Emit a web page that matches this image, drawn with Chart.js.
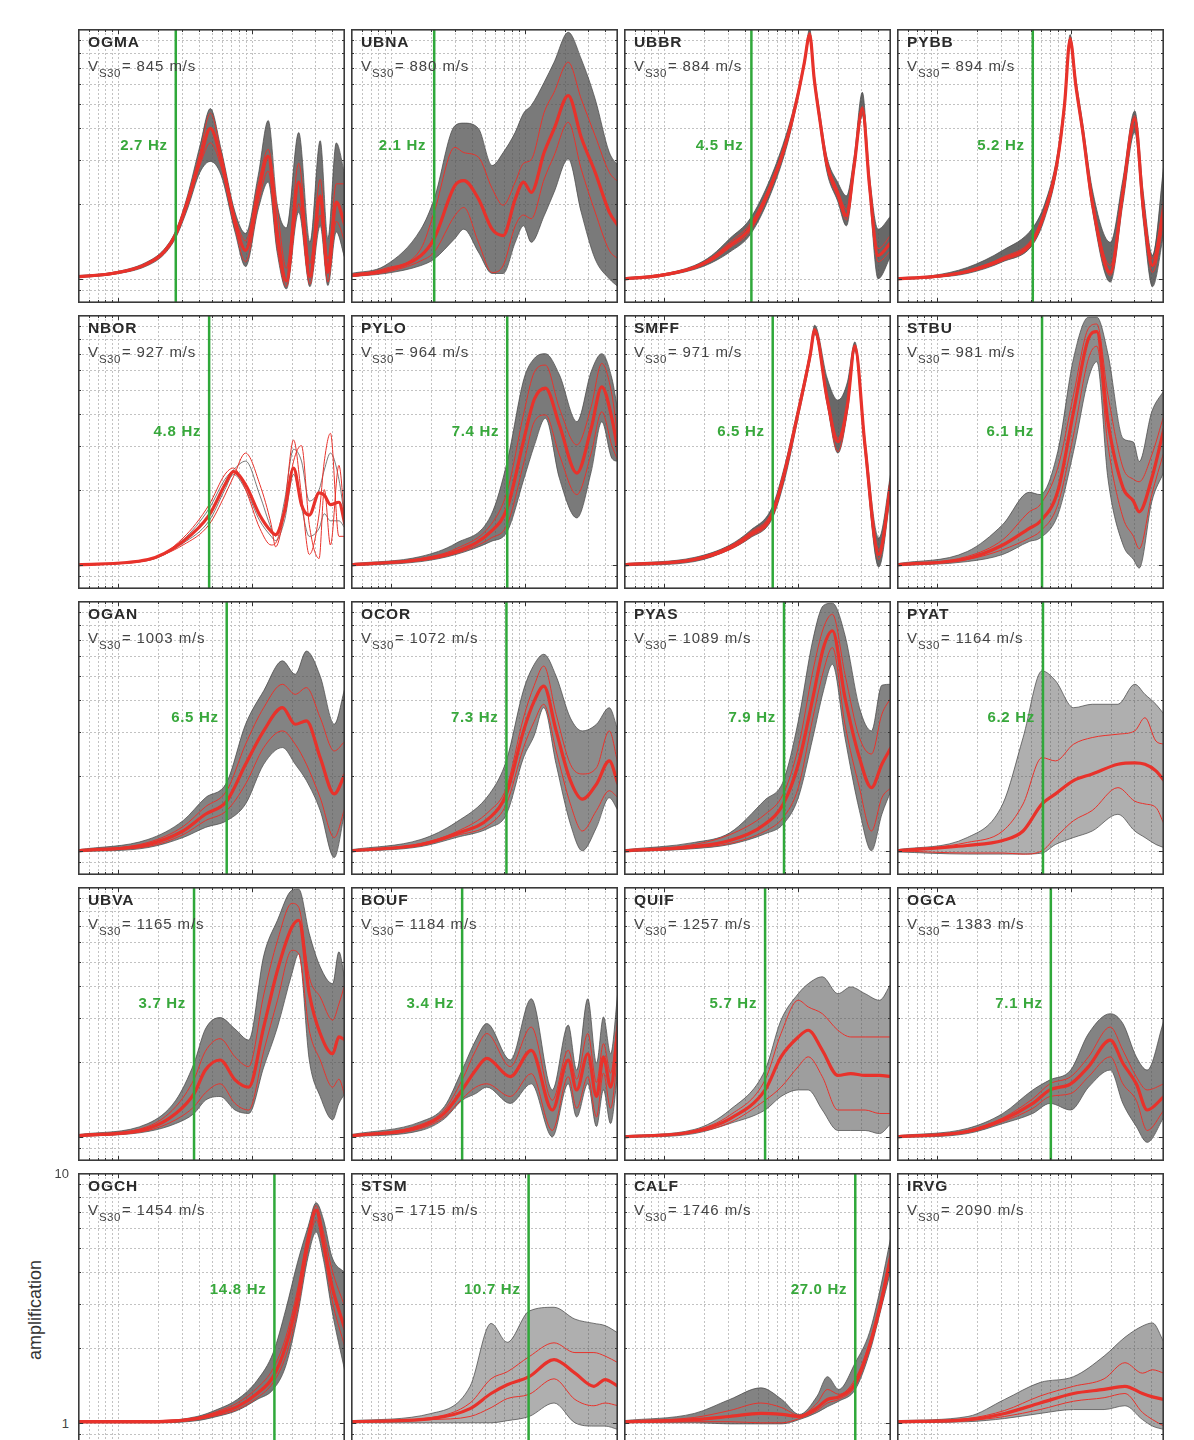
<!DOCTYPE html>
<html><head><meta charset="utf-8">
<script src="https://cdn.jsdelivr.net/npm/chart.js@4.4.1/dist/chart.umd.min.js"></script>
<style>
html,body{margin:0;padding:0;background:#fff;}
body{width:1194px;height:1440px;position:relative;overflow:hidden;font-family:"Liberation Sans",Arial,sans-serif;}
.panel{position:absolute;width:267px;height:274px;}
.panel canvas{position:absolute;left:0;top:0;}
.name{position:absolute;left:10px;top:4px;font-weight:bold;font-size:15.5px;letter-spacing:0.9px;color:#2a2a2a;white-space:nowrap;}
.vs{position:absolute;left:10px;top:28px;font-size:15px;letter-spacing:0.9px;color:#444;white-space:nowrap;}
.vs .sub{font-size:11.5px;letter-spacing:0.5px;position:relative;top:6px;margin-right:1px;}
.hz{position:absolute;font-weight:bold;font-size:15px;letter-spacing:0.7px;color:#38a83c;white-space:nowrap;transform:translate(-100%,-50%);}
.ylab{position:absolute;left:35px;top:1310px;transform:translate(-50%,-50%) rotate(-90deg);font-size:18px;color:#333;white-space:nowrap;}
.ytick{position:absolute;font-size:13px;color:#444;transform:translate(-100%,-50%);}
</style></head><body>
<div class="ylab">amplification</div>
<script>
// ---------- data ----------
const STATIONS = ['OGMA','UBNA','UBBR','PYBB','NBOR','PYLO','SMFF','STBU','OGAN','OCOR','PYAS','PYAT','UBVA','BOUF','QUIF','OGCA','OGCH','STSM','CALF','IRVG'];
const VS30 = [845,880,884,894,927,964,971,981,1003,1072,1089,1164,1165,1184,1257,1383,1454,1715,1746,2090];
const F0 = [2.7,2.1,4.5,5.2,4.8,7.4,6.5,6.1,6.5,7.3,7.9,6.2,3.7,3.4,5.7,7.1,14.8,10.7,27.0,null];
const FREQ_RANGE = [0.5, 50];
const AMP_RANGE = [0.8, 10];
const FREQ_GRID = [0.5,0.6,0.7,0.8,0.9,1,2,3,4,5,6,7,8,9,10,20,30,40,50];
const AMP_GRID = [0.8,0.9,1,2,3,4,5,6,7,8,9,10];
const Y_TICK_LABELS = [10, 1];

// rows: [frequency Hz, mean, red lower, red upper, gray lower, gray upper]
const OGMA = [[0.5,1.02,1.02,1.02,1.01,1.03],[0.9,1.05,1.04,1.06,1.04,1.06],[1.6,1.14,1.13,1.15,1.12,1.16],[2.2,1.28,1.26,1.30,1.25,1.31],[2.7,1.51,1.48,1.54,1.46,1.56],[3.3,2.03,1.95,2.1,1.9,2.15],[4.1,3.0,2.85,3.2,2.67,3.41],[4.9,4.0,3.5,4.6,2.95,4.8],[5.9,3.0,2.8,3.2,2.6,3.3],[7.5,1.69,1.6,1.78,1.54,1.85],[9.0,1.3,1.17,1.42,1.12,1.52],[11.2,2.2,2.0,2.4,1.9,2.6],[13.3,3.1,2.7,3.3,2.44,4.3],[15.5,1.54,1.35,1.93,1.28,2.0],[18.2,0.98,0.93,1.1,0.91,1.6],[22.5,2.44,2.0,2.9,1.85,3.85],[27.3,1.02,0.95,1.15,0.93,1.4],[32.6,2.15,1.8,2.5,1.63,3.57],[37.2,1.06,0.97,1.2,0.94,1.45],[43,2.03,1.7,2.4,1.54,3.5],[50,1.63,1.4,2.4,1.2,2.59]];
const UBNA = [[0.5,1.03,1.02,1.04,1.02,1.05],[0.9,1.08,1.06,1.10,1.05,1.13],[1.67,1.24,1.18,1.32,1.13,1.58],[2.1,1.45,1.28,1.85,1.2,2.09],[3.0,2.36,1.79,3.36,1.45,4.1],[3.5,2.47,1.93,3.2,1.58,4.2],[4.5,2.09,1.40,3.07,1.28,4.0],[5.7,1.58,1.06,2.3,1.05,2.84],[6.9,1.49,1.13,1.97,1.05,3.2],[8.5,2.09,1.63,2.44,1.40,3.86],[9.8,2.44,1.8,2.9,1.63,4.6],[11.2,2.22,1.74,3.0,1.4,4.94],[14,3.21,2.51,4.64,1.79,6.12],[16.6,3.98,3.11,5.58,2.22,7.36],[21.2,5.41,4.23,7.36,3.02,9.7],[26.5,3.69,2.75,5.25,1.85,7.59],[33.7,2.67,1.85,3.74,1.2,5.25],[43,1.85,1.3,2.67,1.0,3.21],[50,1.63,1.2,2.44,0.93,2.84]];
const UBBR = [[0.5,1.0,1.0,1.0,0.99,1.01],[0.92,1.03,1.02,1.04,1.02,1.04],[1.68,1.11,1.10,1.12,1.09,1.13],[2.27,1.2,1.18,1.22,1.16,1.24],[3.1,1.36,1.33,1.40,1.28,1.45],[4.4,1.6,1.55,1.66,1.50,1.74],[6.2,2.3,2.24,2.38,2.15,2.5],[8.3,3.6,3.5,3.7,3.4,3.86],[10,5.4,5.3,5.5,5.2,5.6],[11.2,7.3,7.2,7.4,7.1,7.5],[12.3,9.5,9.3,9.7,9.2,10],[13.3,6.3,6.2,6.4,6.1,6.6],[14.5,4.5,4.4,4.6,4.3,4.8],[16.5,2.9,2.8,3.0,2.7,3.1],[19.9,2.2,2.12,2.28,2.05,2.44],[23.2,1.79,1.72,1.9,1.63,2.15],[26.5,2.84,2.75,2.93,2.7,3.1],[30.5,4.79,4.6,4.9,4.5,5.58],[34.5,2.36,2.3,2.44,2.2,2.6],[40,1.24,1.17,1.32,1.0,1.58],[50,1.4,1.3,1.5,1.24,1.79]];
const PYBB = [[0.5,1.0,1.0,1.0,0.99,1.01],[0.92,1.02,1.01,1.02,1.01,1.03],[1.68,1.07,1.06,1.08,1.05,1.11],[3.1,1.2,1.18,1.22,1.17,1.3],[5.2,1.42,1.39,1.46,1.37,1.6],[6.4,1.85,1.8,1.9,1.75,2.0],[7.9,2.9,2.8,3.0,2.75,3.1],[9.0,5.0,4.9,5.1,4.8,5.3],[9.9,9.1,8.9,9.3,8.8,9.5],[10.9,6.0,5.9,6.1,5.8,6.4],[12.3,3.9,3.8,4.0,3.7,4.2],[14.5,2.03,1.97,2.1,1.9,2.29],[19.8,1.06,1.03,1.13,0.97,1.4],[24.6,2.22,2.1,2.3,2.0,2.5],[30.2,4.37,4.1,4.5,3.86,4.7],[35,1.91,1.8,2.0,1.7,2.2],[41,1.13,1.06,1.2,0.93,1.24],[50,1.91,1.7,2.1,1.54,2.9]];
const NBOR = [[0.5,1.0,1.0,1.0,1.0,1.0],[1.67,1.05,1.04,1.05,1.04,1.05],[3.06,1.24,1.28,1.2,1.22,1.26],[4.8,1.58,1.74,1.45,1.5,1.68],[6.3,2.09,2.3,1.9,2.0,2.2],[7.3,2.36,2.44,2.25,2.3,2.4],[9.0,2.09,2.0,2.8,2.0,2.6],[11.5,1.58,1.4,2.1,1.5,1.9],[14,1.36,1.2,1.45,1.3,1.4],[15.1,1.32,1.22,1.18,1.25,1.3],[17.6,1.63,1.7,1.6,1.5,1.8],[20.6,2.44,3.16,2.6,2.3,2.9],[23.6,1.74,1.9,3.0,1.7,2.6],[27,1.58,1.1,1.45,1.3,1.8],[32,1.94,1.6,1.06,1.4,2.0],[35,1.9,2.6,2.0,1.6,2.4],[38.9,1.74,3.36,1.2,1.5,2.8],[45,1.78,1.3,2.5,1.5,2.2],[50,1.45,1.3,1.45,1.4,1.5]];
const PYLO = [[0.5,1.0,1.0,1.0,0.99,1.01],[1.67,1.05,1.04,1.06,1.03,1.08],[3.06,1.13,1.11,1.16,1.10,1.22],[5.6,1.36,1.28,1.45,1.24,1.58],[7.4,1.69,1.45,1.97,1.36,2.59],[9.9,3.21,2.59,4.1,2.22,5.58],[11.8,4.6,3.74,5.9,3.0,6.7],[14.3,5.1,3.98,6.3,3.86,7.0],[18.2,3.63,2.75,4.23,2.22,5.76],[24.6,2.33,1.91,3.02,1.54,3.74],[31.5,3.52,2.8,4.3,2.36,5.94],[37.8,5.16,4.1,6.4,3.74,7.0],[45,3.86,3.0,4.8,2.67,5.58],[50,2.84,2.6,3.2,2.59,4.1]];
const SMFF = [[0.5,1.0,1.0,1.0,0.99,1.01],[1.68,1.05,1.04,1.06,1.03,1.07],[3.1,1.17,1.15,1.19,1.15,1.20],[4.4,1.32,1.29,1.35,1.28,1.37],[6.4,1.58,1.54,1.63,1.52,1.69],[8.0,2.36,2.28,2.44,2.2,2.5],[10.1,4.1,4.0,4.2,3.9,4.3],[12.4,6.9,6.7,7.1,6.6,7.2],[13.4,8.7,8.5,8.85,8.4,9.1],[16.6,4.64,4.5,4.8,4.4,5.6],[20,3.11,2.84,3.21,2.8,4.56],[23.6,4.37,4.2,4.5,4.1,5.4],[26.8,7.5,7.3,7.6,7.2,7.8],[31.9,3.02,2.9,3.1,2.8,3.2],[40.5,1.1,1.05,1.15,0.98,1.28],[50,2.15,2.05,2.25,1.97,2.36]];
const STBU = [[0.5,1.0,1.0,1.0,0.99,1.01],[1.68,1.06,1.05,1.08,1.03,1.13],[3.1,1.2,1.15,1.26,1.1,1.45],[4.9,1.4,1.28,1.63,1.24,1.95],[5.9,1.49,1.36,1.74,1.28,1.91],[8.0,1.97,1.74,2.44,1.58,2.84],[10.5,4.1,3.31,4.79,2.84,6.7],[13.6,8.07,6.7,8.85,5.58,9.8],[15.7,8.58,7.5,9.2,6.5,9.8],[19,3.74,3.02,4.79,2.22,7.0],[24.7,2.03,1.54,2.44,1.2,3.2],[29.5,1.8,1.3,2.2,1.05,3.1],[32.6,1.63,1.16,2.15,0.97,2.59],[40.5,2.22,1.91,2.75,1.79,4.1],[50,3.52,2.84,3.98,2.36,4.99]];
const OGAN = [[0.5,1.0,1.0,1.0,0.99,1.01],[1.67,1.06,1.04,1.08,1.03,1.11],[3.06,1.2,1.16,1.25,1.13,1.32],[4.5,1.4,1.32,1.5,1.24,1.63],[6.5,1.58,1.45,1.74,1.32,1.88],[9.0,2.22,1.85,2.67,1.54,3.21],[12.3,3.02,2.59,3.74,2.22,4.37],[17,3.74,3.02,4.64,2.59,5.76],[21.2,3.21,2.67,4.23,2.22,5.09],[25.7,3.31,2.22,4.5,1.91,6.3],[32.6,2.36,1.63,3.41,1.45,5.0],[41.5,1.69,1.13,2.51,0.94,3.21],[50,2.03,1.49,2.75,1.45,4.5]];
const OCOR = [[0.5,1.0,1.0,1.0,0.99,1.01],[1.67,1.06,1.05,1.07,1.04,1.11],[3.06,1.17,1.15,1.19,1.13,1.3],[5.5,1.36,1.28,1.45,1.24,1.7],[7.3,1.69,1.54,1.79,1.4,2.3],[9.8,3.02,2.59,3.41,2.36,4.4],[11.8,3.98,3.3,4.6,2.9,5.58],[13.9,4.56,3.86,5.49,3.74,6.12],[17.2,3.02,2.51,3.52,2.22,5.0],[22,1.91,1.54,2.22,1.28,3.4],[27,1.61,1.2,2.03,1.0,3.02],[34.5,1.85,1.45,2.15,1.24,3.21],[43,2.29,1.74,3.02,1.63,3.74],[50,1.85,1.63,2.22,1.45,3.02]];
const PYAS = [[0.5,1.0,1.0,1.0,0.99,1.01],[1.68,1.04,1.03,1.06,1.02,1.08],[3.1,1.1,1.07,1.16,1.06,1.18],[5.7,1.28,1.2,1.4,1.17,1.6],[7.8,1.54,1.36,1.69,1.28,1.9],[10.1,2.22,1.79,2.59,1.63,3.3],[13,4.1,3.41,5.25,2.84,7.0],[15.6,6.5,5.25,7.8,4.37,9.6],[18.2,7.6,6.51,8.85,5.58,9.8],[22.6,4.1,3.21,5.09,2.84,7.3],[29,2.36,1.79,2.84,1.45,3.74],[35.7,1.79,1.2,2.44,1.0,3.02],[42.7,2.22,1.63,3.52,1.4,4.6],[50,2.59,1.79,4.1,1.74,4.64]];
const PYAT = [[0.5,1.0,1.0,1.0,0.99,1.01],[1.68,1.05,0.98,1.08,0.97,1.13],[3.1,1.1,0.98,1.2,0.97,1.54],[4.4,1.2,0.97,1.54,0.97,2.84],[6.1,1.54,1.0,2.36,0.98,5.25],[7.7,1.69,1.13,2.29,1.06,4.79],[10.5,1.91,1.32,2.67,1.13,3.74],[14.5,2.03,1.45,2.84,1.2,3.86],[22.6,2.22,1.79,2.93,1.4,3.86],[30.2,2.25,1.58,3.02,1.2,4.64],[36,2.22,1.54,3.41,1.13,4.23],[43.5,2.09,1.49,2.75,1.06,3.86],[50,1.91,1.28,2.67,1.03,3.52]];
const UBVA = [[0.5,1.01,1.0,1.01,1.0,1.02],[1.67,1.08,1.06,1.10,1.05,1.13],[2.7,1.24,1.17,1.32,1.13,1.4],[3.7,1.49,1.32,1.7,1.24,1.97],[4.5,1.85,1.5,2.2,1.4,2.7],[5.8,2.03,1.63,2.47,1.45,3.0],[7.5,1.69,1.36,2.09,1.28,2.7],[9.5,1.58,1.28,1.91,1.24,2.44],[12.3,2.75,2.2,3.7,1.9,5.3],[15.6,4.64,3.52,6.1,2.75,7.36],[20,6.9,5.58,8.6,4.5,9.7],[22.5,7.36,5.41,8.3,5.4,9.8],[27,3.74,2.67,4.37,2.03,6.51],[32.6,2.59,2.03,3.63,1.45,4.79],[40.4,2.15,1.58,2.93,1.17,4.1],[45,2.51,1.7,3.4,1.36,5.5],[50,2.44,1.45,4.1,1.49,4.23]];
const BOUF = [[0.5,1.01,1.0,1.01,1.0,1.02],[1.67,1.10,1.08,1.12,1.06,1.15],[2.5,1.24,1.2,1.28,1.18,1.32],[3.4,1.54,1.42,1.69,1.40,1.85],[4.3,1.85,1.58,2.22,1.49,2.44],[5.2,2.06,1.63,2.59,1.58,2.84],[7.8,1.74,1.45,1.91,1.36,2.03],[11.2,2.22,1.79,2.75,1.63,3.57],[16.1,1.28,1.06,1.40,1.0,1.54],[21.2,2.03,1.74,2.22,1.63,2.80],[24.5,1.54,1.3,1.7,1.2,1.85],[29.7,2.15,1.74,2.59,1.63,3.57],[34.5,1.45,1.2,1.65,1.1,1.97],[38.9,2.09,1.8,2.36,1.54,3.02],[44,1.58,1.3,1.8,1.13,2.15],[50,2.75,2.2,3.02,1.85,3.86]];
const QUIF = [[0.5,1.0,1.0,1.0,0.99,1.01],[1.68,1.05,1.04,1.06,1.03,1.07],[3.1,1.18,1.14,1.22,1.13,1.28],[5.7,1.54,1.4,1.69,1.28,1.85],[7.5,2.09,1.58,2.59,1.45,2.93],[10.1,2.51,1.91,3.52,1.54,3.74],[12,2.67,2.09,3.31,1.54,4.1],[15.3,2.22,1.74,3.11,1.28,4.37],[20,1.76,1.28,2.67,1.06,3.74],[25,1.79,1.28,2.51,1.06,3.98],[32,1.76,1.28,2.51,1.06,3.74],[41,1.76,1.24,2.51,1.03,3.52],[50,1.74,1.24,2.51,1.13,4.1]];
const OGCA = [[0.5,1.0,1.0,1.0,0.99,1.01],[1.68,1.05,1.04,1.06,1.03,1.08],[3.1,1.17,1.15,1.19,1.13,1.24],[5.2,1.36,1.3,1.42,1.24,1.54],[7.0,1.54,1.45,1.63,1.36,1.69],[10,1.63,1.49,1.74,1.28,1.85],[13.6,1.91,1.74,2.09,1.58,2.59],[19.8,2.44,2.09,2.75,1.85,3.11],[24.6,1.97,1.63,2.22,1.36,2.84],[31,1.63,1.4,1.74,1.1,2.09],[37.4,1.28,1.06,1.54,0.95,1.85],[50,1.45,1.28,1.63,1.2,2.93]];
const OGCH = [[0.5,1.01,1.0,1.01,1.0,1.02],[2.0,1.01,1.0,1.02,1.0,1.02],[3.9,1.04,1.03,1.05,1.02,1.06],[5.5,1.09,1.07,1.11,1.06,1.13],[7.8,1.16,1.13,1.2,1.12,1.24],[11,1.31,1.26,1.38,1.24,1.48],[14.5,1.53,1.45,1.65,1.36,1.91],[18,2.03,1.85,2.2,1.69,2.84],[22,3.11,2.8,3.4,2.67,4.37],[26.5,5.41,5.0,5.8,4.64,6.12],[30.4,7.1,6.5,7.4,5.8,7.6],[34.5,5.25,4.9,5.8,4.5,6.5],[40,3.52,3.1,4.1,2.8,4.6],[50,2.36,2.0,2.9,1.6,3.98]];
const STSM = [[0.5,1.01,1.0,1.01,1.0,1.02],[2.0,1.04,1.03,1.05,1.0,1.09],[3.9,1.14,1.06,1.2,1.0,1.4],[5.6,1.31,1.15,1.5,1.0,2.5],[7.4,1.42,1.25,1.6,1.02,2.1],[10.8,1.53,1.3,1.84,1.06,2.8],[16.6,1.79,1.5,2.09,1.2,2.9],[23.8,1.58,1.24,1.91,1.0,2.6],[33,1.4,1.17,1.91,0.97,2.5],[40,1.49,1.2,1.85,0.97,2.45],[50,1.4,1.17,1.74,0.94,2.29]];
const CALF = [[0.5,1.01,1.0,1.01,1.0,1.02],[1.68,1.03,1.01,1.05,1.0,1.09],[3.1,1.06,1.01,1.12,0.99,1.24],[5.3,1.09,1.0,1.2,0.99,1.38],[7.6,1.08,1.0,1.15,0.99,1.24],[10.3,1.06,1.04,1.07,1.03,1.08],[14,1.15,1.12,1.2,1.1,1.28],[16.7,1.24,1.2,1.36,1.16,1.53],[20.3,1.27,1.24,1.3,1.22,1.36],[27,1.44,1.4,1.5,1.36,1.74],[34.5,2.03,1.97,2.1,1.9,2.3],[41.4,2.93,2.8,3.05,2.75,3.41],[50,4.64,4.37,4.94,4.1,5.58]];
const IRVG = [[0.5,1.01,1.0,1.01,1.0,1.02],[1.7,1.03,1.02,1.04,1.01,1.06],[3.2,1.09,1.06,1.12,1.04,1.24],[5.9,1.2,1.13,1.28,1.09,1.45],[10.5,1.31,1.22,1.4,1.13,1.53],[17.8,1.36,1.26,1.5,1.13,1.85],[25.5,1.4,1.31,1.74,1.17,2.2],[34.5,1.31,1.1,1.58,1.03,2.44],[41,1.27,1.03,1.63,0.97,2.51],[50,1.24,0.97,1.58,0.94,2.1]];

const DATA = {OGMA,UBNA,UBBR,PYBB,NBOR,PYLO,SMFF,STBU,OGAN,OCOR,PYAS,PYAT,UBVA,BOUF,QUIF,OGCA,OGCH,STSM,CALF,IRVG};

// ---------- styles / layout ----------
const COL_X = [78, 351, 624, 897];
const ROW_Y = [29, 315, 601, 887, 1173];
const PANEL_W = 267, PANEL_H = 274;
const RED = '#e8322b', GREEN = '#2fa83a', GRAY_LINE = 'rgba(70,70,70,0.9)';
const GRAY_ALPHA = [0.8,0.75,0.85,0.85,0,0.75,0.85,0.65,0.7,0.65,0.7,0.45,0.7,0.7,0.55,0.7,0.75,0.45,0.7,0.5];

const decor = {
  id: 'decor',
  beforeDatasetsDraw(chart) {
    const {ctx, chartArea: a, scales: {x, y}} = chart;
    ctx.save();
    ctx.strokeStyle = '#c2c2c2'; ctx.lineWidth = 1; ctx.setLineDash([2, 2]);
    ctx.beginPath();
    FREQ_GRID.forEach(v => { const p = Math.round(x.getPixelForValue(v)) + 0.5; ctx.moveTo(p, a.top); ctx.lineTo(p, a.bottom); });
    AMP_GRID.forEach(v => { const p = Math.round(y.getPixelForValue(v)) + 0.5; ctx.moveTo(a.left, p); ctx.lineTo(a.right, p); });
    ctx.stroke();
    ctx.restore();
  },
  afterDraw(chart) {
    const {ctx, chartArea: a, scales: {x, y}} = chart;
    ctx.save();
    ctx.strokeStyle = '#333'; ctx.lineWidth = 1; ctx.setLineDash([]);
    ctx.beginPath();
    FREQ_GRID.forEach(v => { const p = Math.round(x.getPixelForValue(v)) + 0.5; const L = (v === 1 || v === 10) ? 5 : 3;
      ctx.moveTo(p, a.top); ctx.lineTo(p, a.top + L); ctx.moveTo(p, a.bottom); ctx.lineTo(p, a.bottom - L); });
    AMP_GRID.forEach(v => { const p = Math.round(y.getPixelForValue(v)) + 0.5; const L = (v === 1 || v === 10) ? 5 : 3;
      ctx.moveTo(a.left, p); ctx.lineTo(a.left + L, p); ctx.moveTo(a.right, p); ctx.lineTo(a.right - L, p); });
    ctx.stroke();
    ctx.strokeStyle = '#3a3a3a'; ctx.lineWidth = 1.6;
    ctx.strokeRect(0.8, 0.8, chart.width - 1.6, chart.height - 1.6);
    ctx.restore();
  }
};

function makePanel(idx) {
  const name = STATIONS[idx], rows = DATA[name];
  const L = COL_X[idx % 4], T = ROW_Y[Math.floor(idx / 4)];
  const div = document.createElement('div');
  div.className = 'panel'; div.style.left = L + 'px'; div.style.top = T + 'px';
  const cv = document.createElement('canvas'); cv.width = PANEL_W; cv.height = PANEL_H;
  div.appendChild(cv); document.body.appendChild(div);
  const pts = k => rows.map(r => ({x: r[0], y: r[k]}));
  const ds = [];
  if (F0[idx] != null) ds.push({data: [{x: F0[idx], y: AMP_RANGE[0]}, {x: F0[idx], y: AMP_RANGE[1]}], borderColor: GREEN, borderWidth: 2.5, tension: 0, cubicInterpolationMode: 'default'});
  ds.push({data: pts(1), borderColor: RED, borderWidth: 3.2});
  ds.push({data: pts(3), borderColor: RED, borderWidth: 1});
  ds.push({data: pts(2), borderColor: RED, borderWidth: 1});
  ds.push({data: pts(5), borderColor: GRAY_LINE, borderWidth: 0.8, fill: '+1', backgroundColor: 'rgba(78,78,78,' + GRAY_ALPHA[idx] + ')'});
  ds.push({data: pts(4), borderColor: GRAY_LINE, borderWidth: 0.8});
  const chart = new Chart(cv, {
    type: 'line',
    data: {datasets: ds},
    options: {
      responsive: false, animation: false, devicePixelRatio: 1, events: [],
      layout: {padding: 0},
      plugins: {legend: {display: false}, tooltip: {enabled: false}},
      elements: {point: {radius: 0}, line: {cubicInterpolationMode: 'monotone', fill: false}},
      scales: {
        x: {type: 'logarithmic', min: FREQ_RANGE[0], max: FREQ_RANGE[1], display: false},
        y: {type: 'logarithmic', min: AMP_RANGE[0], max: AMP_RANGE[1], display: false}
      }
    },
    plugins: [decor]
  });
  const n = document.createElement('div'); n.className = 'name'; n.textContent = name; div.appendChild(n);
  const v = document.createElement('div'); v.className = 'vs';
  v.innerHTML = 'V<span class="sub">S30</span>= ' + VS30[idx] + ' m/s'; div.appendChild(v);
  if (F0[idx] != null) {
    const h = document.createElement('div'); h.className = 'hz';
    h.textContent = F0[idx].toFixed(1) + ' Hz';
    h.style.left = (chart.scales.x.getPixelForValue(F0[idx]) - 8) + 'px';
    h.style.top = '115px';
    div.appendChild(h);
  }
  return chart;
}

const charts = STATIONS.map((s, i) => makePanel(i));
const ref = charts[16];
Y_TICK_LABELS.forEach(t => {
  const d = document.createElement('div'); d.className = 'ytick'; d.textContent = t;
  d.style.left = '69px'; d.style.top = (ROW_Y[4] + ref.scales.y.getPixelForValue(t)) + 'px';
  document.body.appendChild(d);
});
</script>
</body></html>
